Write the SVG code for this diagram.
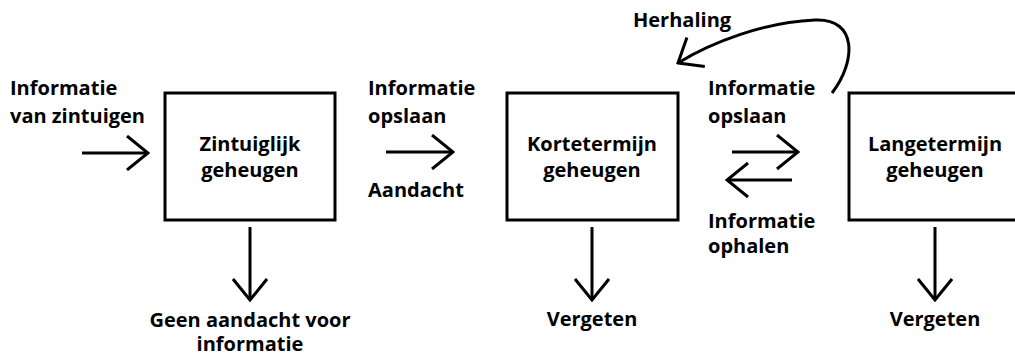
<svg xmlns="http://www.w3.org/2000/svg" width="1015" height="356" viewBox="0 0 1015 356">
<style>
text{font-family:"Open Sans","Noto Sans",sans-serif;font-weight:700;font-size:20px;fill:#000}
.c{text-anchor:middle}
.box{fill:#fff;stroke:#000;stroke-width:3}
.ln{fill:none;stroke:#000;stroke-width:3;stroke-linecap:butt}
</style>
<defs>
<marker id="ah" viewBox="0 0 24 36" refX="22" refY="18" markerWidth="24" markerHeight="36" markerUnits="userSpaceOnUse" orient="auto">
<path d="M1 1 L22 18 L1 35" fill="none" stroke="#000" stroke-width="3"/>
</marker>
</defs>
<rect width="1015" height="356" fill="#fff"/>
<g id="connectors">
<line class="ln" x1="82" y1="153" x2="148" y2="153" marker-end="url(#ah)"/>
<line class="ln" x1="386" y1="152" x2="453" y2="152" marker-end="url(#ah)"/>
<line class="ln" x1="732" y1="152" x2="798" y2="152" marker-end="url(#ah)"/>
<line class="ln" x1="792" y1="180" x2="727" y2="180" marker-end="url(#ah)"/>
<line class="ln" x1="250" y1="227" x2="250" y2="300" marker-end="url(#ah)"/>
<line class="ln" x1="592" y1="227" x2="592" y2="300" marker-end="url(#ah)"/>
<line class="ln" x1="935" y1="227" x2="935" y2="300" marker-end="url(#ah)"/>
<path class="ln" d="M832 93 C856 62 858 18 815 20 C765 22 712 42 678 63" marker-end="url(#ah)"/>
</g>
<g id="n-zintuiglijk">
<rect class="box" x="165" y="93" width="170" height="127"/>
<text class="c" x="250" y="151">Zintuiglijk</text>
<text class="c" x="250" y="177">geheugen</text>
</g>
<g id="n-kortetermijn">
<rect class="box" x="507" y="93" width="171" height="127"/>
<text class="c" x="592" y="151">Kortetermijn</text>
<text class="c" x="592" y="177">geheugen</text>
</g>
<g id="n-langetermijn">
<rect class="box" x="849" y="93" width="172" height="127"/>
<text class="c" x="935" y="151">Langetermijn</text>
<text class="c" x="935" y="177">geheugen</text>
</g>
<g id="labels">
<text x="10" y="95">Informatie</text>
<text x="10" y="123">van zintuigen</text>
<text x="368" y="95">Informatie</text>
<text x="368" y="123">opslaan</text>
<text x="368" y="197">Aandacht</text>
<text x="708" y="95">Informatie</text>
<text x="708" y="123">opslaan</text>
<text x="708" y="228">Informatie</text>
<text x="708" y="253">ophalen</text>
<text x="633" y="27">Herhaling</text>
<text class="c" x="250" y="327">Geen aandacht voor</text>
<text class="c" x="250" y="351">informatie</text>
<text class="c" x="592" y="326">Vergeten</text>
<text class="c" x="935" y="326">Vergeten</text>
</g>
</svg>
